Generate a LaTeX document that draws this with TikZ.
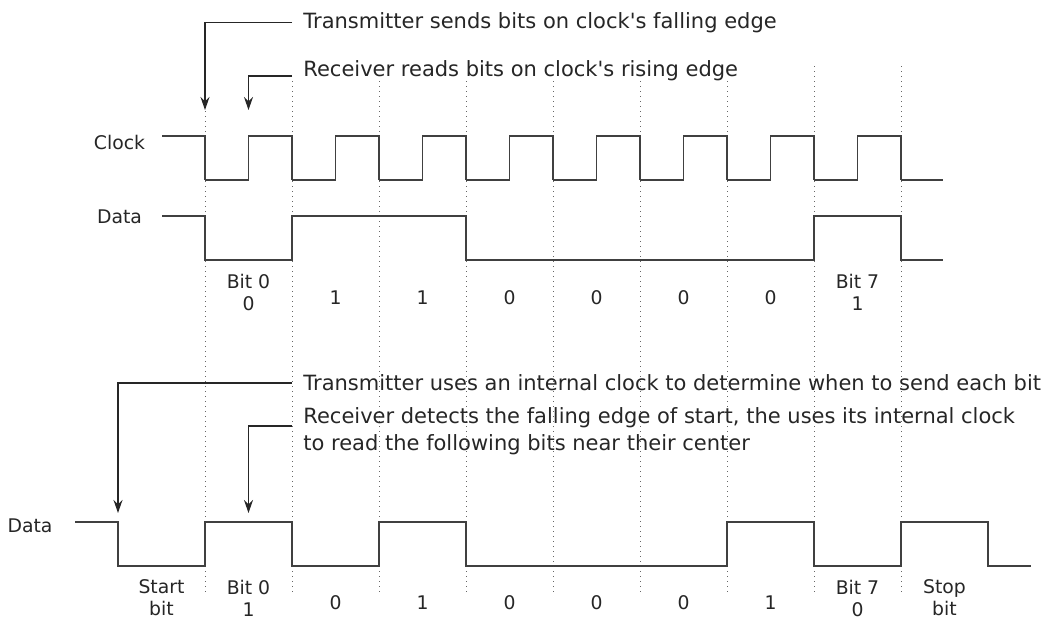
\documentclass[tikz,border=0pt]{standalone}
\usepackage{fontspec}
\setmainfont{DejaVu Sans}[Ligatures=TeXOff]
\usepackage{tikz}
\usetikzlibrary{arrows.meta, positioning}

\begin{document}
\begin{tikzpicture}[x=0.5pt, y=-0.5pt,
  sig/.style={draw=black!75, line width=0.75pt},
  guide/.style={draw=black!60, dotted, line width=0.5pt},
  note/.style={anchor=west, inner xsep=5.5pt, inner ysep=0pt, font=\fontsize{10.5}{13.5}\selectfont, text=black!85, align=left},
  lbl/.style={font=\fontsize{9.4}{11}\selectfont, text=black!85, align=center, inner sep=0pt},
  ptr/.style={draw=black!85, line width=0.6pt, -{Stealth[length=6.5pt, width=4.5pt]}}
]
  \useasboundingbox (0,0) rectangle (1056,621);

  % bit boundaries
  \foreach \k in {0,...,8}
    \draw[guide] ({205+87*\k},66) -- ({205+87*\k},595);

  % synchronous: clock and data
  \node[lbl] (clklbl) at (119.5,142) {Clock};
  \node[lbl] (datlbl) at (119.5,217) {Data};
  \draw[sig] (162,136) -- (205,136) -- (205,180);
  \foreach \k in {0,...,7}
    \draw[sig] ({205+87*\k},180) -- ++(43.5,0) -- ++(0,-44) -- ++(43.5,0) -- ++(0,44);
  \draw[sig] (901,180) -- (943,180);
  \draw[sig] (162,216) -| (205,260) -| (292,216) -| (466,260) -| (814,216) -| (901,260) -- (943,260);

  \foreach \txt/\ty [count=\k from 0] in {{Bit 0\\0}/292, 1/298, 1/298, 0/298, 0/298, 0/298, 0/298, {Bit 7\\1}/292}
    \node[lbl] (top\k) at ({248.5+87*\k},\ty) {\txt};

  \node[note, fill=white] (sendnote) at (292,22.5) {Transmitter sends bits on clock's falling edge};
  \node[note, fill=white] (readnote) at (292,71) {Receiver reads bits on clock's rising edge};
  \coordinate (sendtip) at (205,110);
  \coordinate (readtip) at (248.5,110);
  \draw[ptr] (sendnote.west) -| (sendtip);
  \draw[ptr] ([yshift=-2.5pt]readnote.west) -| (readtip);

  % asynchronous: data only
  \node[lbl] (asynlbl) at (30,526) {Data};
  \draw[sig] (75,522) -| (118,566) -| (205,522) -| (292,566) -| (379,522) -| (466,566) -| (727,522) -| (814,566) -| (901,522) -| (988,566) -- (1031,566);

  \foreach \txt/\ty [count=\k from 0] in {{Start\\bit}/598, {Bit 0\\1}/598, 0/603, 1/603, 0/603, 0/603, 0/603, 1/603, {Bit 7\\0}/598, {Stop\\bit}/598}
    \node[lbl] (bot\k) at ({161.5+87*\k},\ty) {\txt};

  \node[note] (clknote) at (292,383) {Transmitter uses an internal clock to determine when to send each bit};
  \node[note] (detnote) at (292,431) {Receiver detects the falling edge of start, the uses its internal clock\\to read the following bits near their center};
  \coordinate (starttip) at (118,513);
  \coordinate (centtip) at (248.5,513);
  \draw[ptr] (clknote.west) -| (starttip);
  \draw[ptr] ([yshift=2.5pt]detnote.west) -| (centtip);
\end{tikzpicture}
\end{document}
